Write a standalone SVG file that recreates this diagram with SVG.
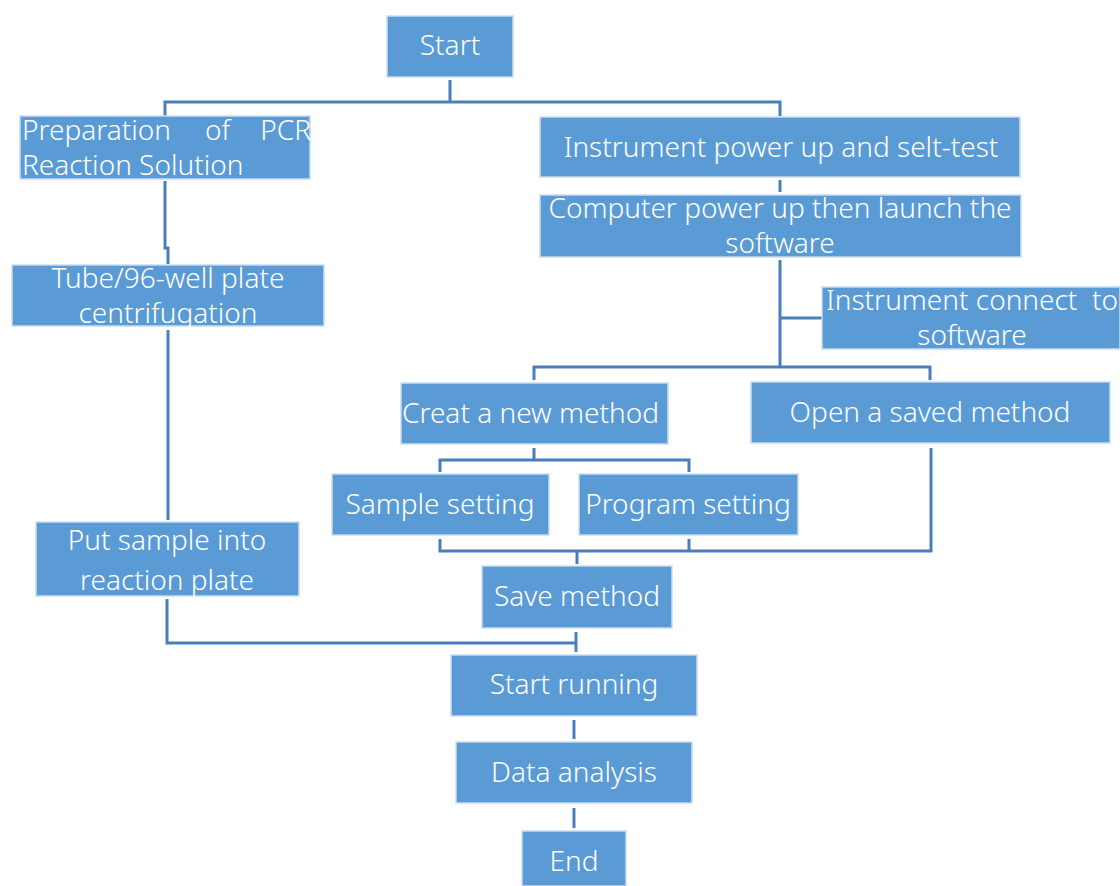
<svg xmlns="http://www.w3.org/2000/svg" width="1120" height="886" viewBox="0 0 1120 886">
  <style>
    .box { fill: #5B9BD5; stroke: #c9dcf1; stroke-width: 1.5; }
    .t { fill: #ffffff; font-family: "Noto Sans", "Open Sans", sans-serif; font-weight: 300; font-size: 28px; text-anchor: middle; white-space: pre; }
    .tl { text-anchor: start; }
    .tr { text-anchor: end; }
    .conn { fill: none; stroke: #4A7EBB; stroke-width: 3; }
  </style>
  <rect width="1120" height="886" fill="#ffffff"/>

  <!-- connectors -->
  <g id="connectors" class="conn">
    <path d="M450 80 V102 M165 116 V102 H780 V116"/>
    <path d="M165 181 V248 H168 V264"/>
    <path d="M168 330 V520"/>
    <path d="M167 599 V643 H577"/>
    <path d="M780 180 V192"/>
    <path d="M780 260 V367 M780 318 H822"/>
    <path d="M534 380 V367 H930 V380"/>
    <path d="M534 448 V460 M440 472 V460 H689 V472"/>
    <path d="M440 539 V551 H931 V448 M689 539 V551 M577 551 V564"/>
    <path d="M576 632 V652"/>
    <path d="M574 720 V739"/>
    <path d="M574 808 V828"/>
  </g>

  <g id="start">
    <rect class="box" x="387" y="16" width="126" height="61"/>
    <text class="t" x="450" y="55">Start</text>
  </g>

  <g id="prep">
    <rect class="box" x="20" y="116" width="290" height="63"/>
    <text class="t tl" x="22" y="140">Preparation</text>
    <text class="t tl" x="205" y="140">of</text>
    <text class="t tr" x="311" y="140">PCR</text>
    <text class="t tl" x="22" y="175">Reaction Solution</text>
  </g>

  <g id="tube">
    <rect class="box" x="12" y="265" width="312" height="61"/>
    <text class="t" x="168" y="288">Tube/96-well plate</text>
    <text class="t" x="168" y="323">centrifugation</text>
  </g>

  <g id="put-sample">
    <rect class="box" x="36" y="522" width="263" height="74"/>
    <text class="t" x="167" y="550">Put sample into</text>
    <text class="t" x="167" y="590">reaction plate</text>
  </g>

  <g id="instrument-power">
    <rect class="box" x="540" y="117" width="480" height="60"/>
    <text class="t" x="781" y="157">Instrument power up and selt-test</text>
  </g>

  <g id="computer-power">
    <rect class="box" x="540" y="195" width="481" height="62"/>
    <text class="t" x="780" y="218">Computer power up then launch the</text>
    <text class="t" x="780" y="253">software</text>
  </g>

  <g id="instrument-connect">
    <rect class="box" x="822" y="287" width="298" height="62"/>
    <text class="t" x="972" y="310">Instrument connect  to</text>
    <text class="t" x="972" y="345">software</text>
  </g>

  <g id="new-method">
    <rect class="box" x="401" y="383" width="267" height="61"/>
    <text class="t tl" x="402" y="423">Creat a new method</text>
  </g>

  <g id="open-method">
    <rect class="box" x="751" y="382" width="359" height="61"/>
    <text class="t" x="930" y="422">Open a saved method</text>
  </g>

  <g id="sample-setting">
    <rect class="box" x="332" y="474" width="217" height="61"/>
    <text class="t" x="440" y="514">Sample setting</text>
  </g>

  <g id="program-setting">
    <rect class="box" x="579" y="474" width="219" height="61"/>
    <text class="t" x="688" y="514">Program setting</text>
  </g>

  <g id="save-method">
    <rect class="box" x="482" y="566" width="190" height="62"/>
    <text class="t" x="577" y="606">Save method</text>
  </g>

  <g id="start-running">
    <rect class="box" x="451" y="655" width="246" height="61"/>
    <text class="t" x="574" y="694">Start running</text>
  </g>

  <g id="data-analysis">
    <rect class="box" x="456" y="742" width="236" height="61"/>
    <text class="t" x="574" y="782">Data analysis</text>
  </g>

  <g id="end">
    <rect class="box" x="522" y="831" width="104" height="55"/>
    <text class="t" x="574" y="871">End</text>
  </g>
</svg>
